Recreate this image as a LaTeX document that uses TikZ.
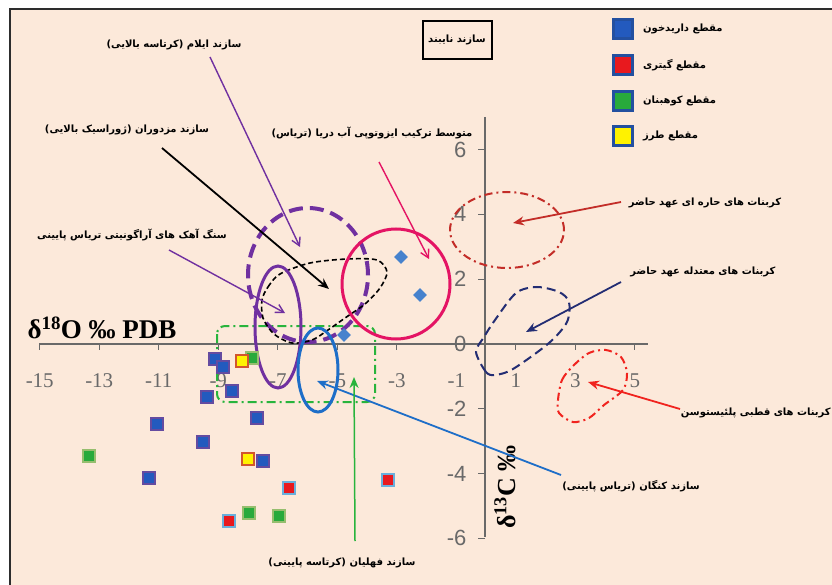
\documentclass[tikz,border=0pt]{standalone}
\usepackage{fontspec}
\setmainfont{Liberation Serif}
\setsansfont{Liberation Sans}
\newfontfamily\farsi[Script=Arabic]{DejaVu Sans}
\TeXXeTstate=1
\usetikzlibrary{arrows.meta,shapes.geometric}
\definecolor{bg}{RGB}{252,233,218}
\definecolor{frame}{RGB}{45,45,45}
\definecolor{axisc}{RGB}{105,105,105}
\definecolor{purp}{RGB}{112,48,160}
\definecolor{pinkc}{RGB}{228,20,100}
\definecolor{bluec}{RGB}{30,110,200}
\definecolor{navyc}{RGB}{35,45,115}
\definecolor{redc}{RGB}{195,45,40}
\definecolor{brred}{RGB}{240,35,30}
\definecolor{greenc}{RGB}{40,180,60}
\definecolor{mblue}{RGB}{35,90,190}
\definecolor{mblueedge}{RGB}{100,75,160}
\definecolor{mred}{RGB}{232,25,30}
\definecolor{mrededge}{RGB}{105,175,220}
\definecolor{mgreen}{RGB}{40,170,60}
\definecolor{mgreenedge}{RGB}{150,190,110}
\definecolor{myellowedge}{RGB}{210,85,45}
\definecolor{legedge}{RGB}{35,80,160}
\definecolor{diac}{RGB}{70,130,205}
\begin{document}
\begin{tikzpicture}[x=1pt,y=-1pt,
  fa/.style={font=\farsi\bfseries\fontsize{10}{11}\selectfont,inner sep=1pt},
  axis/.style={axisc,line width=1.2pt},
  barb/.style={line width=1.4pt,-{Straight Barb[length=8pt,width=9pt]}},
  tri/.style={line width=1.8pt,-{Stealth[length=11pt,width=9pt]}},
  sq/.style={minimum size=12pt,inner sep=0pt,line width=1.2pt},
  sqB/.style={sq,fill=mblue,draw=mblueedge},
  sqR/.style={sq,fill=mred,draw=mrededge},
  sqG/.style={sq,fill=mgreen,draw=mgreenedge},
  sqY/.style={sq,fill=yellow,draw=myellowedge},
  leg/.style={minimum size=19pt,inner sep=0pt,line width=2.5pt,draw=legedge},
  dia/.style={diamond,fill=diac,minimum size=14pt,inner sep=0pt}]
\useasboundingbox (0,0) rectangle (832,585);
\fill[bg] (10,9) rectangle (832,585);
\draw[frame,line width=2pt] (10,585) -- (10,9) -- (832,9);

% axes
\draw[axis] (39,344) -- (648,344);
\draw[axis] (485,117) -- (485,537);
\foreach \v in {-15,-13,...,5}
  \draw[axis] ({486+29.75*\v},344) -- ++(0,6)
    node[font=\fontsize{21}{21}\selectfont,inner sep=0pt] (xl\v) at ({486+29.75*\v},381) {\v};
\foreach \v in {6,4,...,-6}
  \draw[axis] (485,{344-32.4*\v}) -- ++(-7,0)
    node[font=\sffamily\fontsize{22}{22}\selectfont,anchor=east,inner sep=0pt] (yl\v) at (467,{344-32.4*\v}) {\v};
\node[font=\bfseries\fontsize{27}{27}\selectfont,inner sep=0pt] (xtitle) at (102,328) {δ\textsuperscript{18}O ‰ PDB};
\node[font=\bfseries\fontsize{26}{26}\selectfont,inner sep=0pt,rotate=90] (ytitle) at (505,487) {δ\textsuperscript{13}C ‰};

% fields
\draw[greenc,line width=2pt,dash pattern=on 9pt off 4pt on 2pt off 4pt,rounded corners=8pt] (217,326) rectangle (375,402);
\draw[purp,line width=4pt,dash pattern=on 14pt off 7pt] (308,275) ellipse [x radius=60pt,y radius=67pt];
\draw[black,line width=1.6pt,dash pattern=on 5pt off 3pt] plot[smooth cycle] coordinates {(262,300) (268,287) (280,274) (310,263) (347,259) (377,260) (387,272) (380,288) (365,304) (345,318) (328,330) (312,340) (292,343) (274,334) (263,318)};
\draw[purp,line width=3pt] (278,327) ellipse [x radius=23pt,y radius=61pt];
\draw[bluec,line width=3pt] (318,370) ellipse [x radius=20pt,y radius=42pt];
\draw[pinkc,line width=3pt] (396,284) ellipse [x radius=54pt,y radius=55pt];
\draw[redc,line width=2pt,dash pattern=on 8pt off 4pt on 2pt off 4pt] (507,230) ellipse [x radius=57pt,y radius=38pt];
\draw[navyc,line width=2pt,dash pattern=on 9pt off 5pt] plot[smooth cycle] coordinates {(476,352) (486,372) (495,375) (513,369) (549,343) (567,322) (569,302) (559,292) (537,287) (516,293) (495,320) (484,337)};
\draw[brred,line width=2pt,dash pattern=on 8pt off 4pt on 2pt off 4pt] plot[smooth cycle] coordinates {(558,400) (562,380) (573,366) (589,353) (606,350) (621,357) (627,373) (623,390) (604,405) (589,418) (573,422) (559,413)};

% data
\node[dia] (d1) at (401,257) {};
\node[dia] (d2) at (420,295) {};
\node[dia] (d3) at (344,335) {};
\foreach \x/\y [count=\i] in {215/359,223/367,207/397,232/391,257/418,203/442,263/461,157/424,149/478}
  \node[sqB] (b\i) at (\x,\y) {};
\foreach \x/\y [count=\i] in {289/488,388/480,229/521}
  \node[sqR] (r\i) at (\x,\y) {};
\foreach \x/\y [count=\i] in {252/358,249/513,279/516,89/456}
  \node[sqG] (g\i) at (\x,\y) {};
\foreach \x/\y [count=\i] in {242/361,248/459}
  \node[sqY] (y\i) at (\x,\y) {};

% labels
\node[fa] (ilam) at (174,45) {\beginR سازند ایلام (کرتاسه بالایی)\endR};
\node[fa] (mozd) at (127,130) {\beginR سازند مزدوران (ژوراسیک بالایی)\endR};
\node[fa] (sea) at (372,133) {\beginR متوسط ترکیب ایزوتوپی آب دریا (تریاس)\endR};
\node[fa] (arag) at (132,235) {\beginR سنگ آهک های  آراگونیتی تریاس پایینی\endR};
\node[fa] (trop) at (705,203) {\beginR کربنات های حاره ای عهد حاضر\endR};
\node[fa] (temp) at (703,272) {\beginR کربنات های معتدله عهد حاضر\endR};
\node[fa,anchor=east] (polar) at (832,413) {\beginR کربنات های قطبی پلئیستوسن\endR};
\node[fa] (kang) at (631,486) {\beginR سازند کنگان (تریاس پایینی)\endR};
\node[fa] (fahl) at (342,563) {\beginR سازند فهلیان (کرتاسه پایینی)\endR};
\node[fa,draw=black,line width=2pt,minimum width=69pt,minimum height=38pt] (nay) at (457,40) {\beginR سازند نایبند\endR};

% legend
\node[leg,fill=mblue] (lg1) at (623,29) {};
\node[leg,fill=mred] (lg2) at (623,65) {};
\node[leg,fill=mgreen] (lg3) at (623,101) {};
\node[leg,fill=yellow] (lg4) at (623,136) {};
\node[fa,anchor=west] (lt1) at (642,29) {\beginR مقطع داریدخون\endR};
\node[fa,anchor=west] (lt2) at (642,65) {\beginR مقطع گیتری\endR};
\node[fa,anchor=west] (lt3) at (642,101) {\beginR مقطع کوهبنان\endR};
\node[fa,anchor=west] (lt4) at (642,136) {\beginR مقطع طرز\endR};

% arrows
\coordinate (ilamA) at (210,57);   \coordinate (ilamB) at (300,247);
\coordinate (mozdA) at (162,148);  \coordinate (mozdB) at (329,289);
\coordinate (seaA) at (379,162);   \coordinate (seaB) at (429,259);
\coordinate (aragA) at (169,250);  \coordinate (aragB) at (285,313);
\coordinate (tropA) at (621,202);  \coordinate (tropB) at (513,223);
\coordinate (tempA) at (621,282);  \coordinate (tempB) at (526,332);
\coordinate (polA) at (680,409);   \coordinate (polB) at (588,382);
\coordinate (kangA) at (561,475);  \coordinate (kangB) at (317,381);
\coordinate (fahlA) at (355,541);  \coordinate (fahlB) at (354,377);
\draw[barb,purp] (ilamA) -- (ilamB);
\draw[tri,black] (mozdA) -- (mozdB);
\draw[barb,pinkc] (seaA) -- (seaB);
\draw[barb,purp] (aragA) -- (aragB);
\draw[tri,redc] (tropA) -- (tropB);
\draw[tri,navyc] (tempA) -- (tempB);
\draw[tri,brred] (polA) -- (polB);
\draw[tri,bluec] (kangA) -- (kangB);
\draw[tri,greenc,line width=1.5pt] (fahlA) -- (fahlB);
\end{tikzpicture}
\end{document}
